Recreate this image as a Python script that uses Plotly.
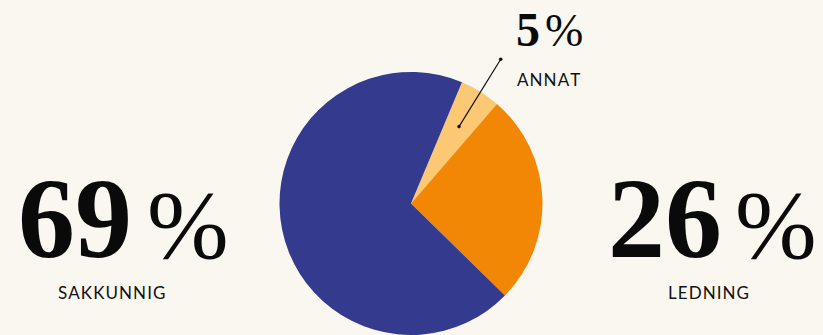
import math
import plotly.graph_objects as go

W, H = 823, 335
labels = ["ANNAT", "LEDNING", "SAKKUNNIG"]
values = [5, 26, 69]
colors = ["#fdc873", "#f28705", "#343b8f"]
rotation = 22.8

# pie geometry (pixels)
cx, cy, r = 411, 204, 132

fig = go.Figure(go.Pie(
    labels=labels, values=values, sort=False, direction="clockwise",
    rotation=rotation, marker=dict(colors=colors, line=dict(width=0)),
    textinfo="none", hoverinfo="label+percent", showlegend=False,
    domain=dict(x=[(cx - r) / W, (cx + r) / W], y=[0, (H - cy + r) / H]),
))

def px(x):
    return x / W

def py(y):
    return 1 - y / H

# leader line for the small slice
mid = rotation + values[0] / sum(values) * 360 / 2
a = math.radians(mid)
x0, y0 = cx + 0.69 * r * math.sin(a), cy - 0.69 * r * math.cos(a)
x1, y1 = cx + 1.29 * r * math.sin(a), cy - 1.29 * r * math.cos(a)
fig.add_shape(type="line", xref="paper", yref="paper",
              x0=px(x0), y0=py(y0), x1=px(x1), y1=py(y1),
              line=dict(color="#111", width=1.2))
for (xx, yy) in [(x0, y0), (x1, y1)]:
    fig.add_shape(type="circle", xref="paper", yref="paper",
                  x0=px(xx - 1.8), x1=px(xx + 1.8), y0=py(yy - 1.8), y1=py(yy + 1.8),
                  fillcolor="#111", line=dict(width=0))

serif = "Liberation Serif"
sans = "Lato"
HS = "\u200a"

def big(num, pct, xr, xl, ybase, size, psize):
    fig.add_annotation(text=f"<b>{num}</b>", x=px(xr), y=py(ybase), xref="paper", yref="paper",
                       xanchor="right", yanchor="bottom", showarrow=False,
                       font=dict(family=serif, size=size, color="#0a0a0a"))
    fig.add_annotation(text=pct, x=px(xl), y=py(ybase - 0.18 * (size - psize)), xref="paper", yref="paper",
                       xanchor="left", yanchor="bottom", showarrow=False,
                       font=dict(family=serif, size=psize, color="#0a0a0a"))

def small(text, xc, yc):
    fig.add_annotation(text=HS.join(text), x=px(xc), y=py(yc), xref="paper", yref="paper",
                       xanchor="center", yanchor="middle", showarrow=False,
                       font=dict(family=sans, size=17, color="#111"))

big(str(values[2]), "%", 134, 145, 284, 114, 98)
small(labels[2], 111, 292)
big(str(values[1]), "%", 724, 733, 284, 114, 98)
small(labels[1], 708, 292)
big(str(values[0]), "%", 542, 543, 58, 48, 46)
small(labels[0], 548, 79)

fig.update_layout(width=W, height=H, margin=dict(l=0, r=0, t=0, b=0),
                  paper_bgcolor="#faf7f0", plot_bgcolor="#faf7f0")
fig.write_html("out.html")
